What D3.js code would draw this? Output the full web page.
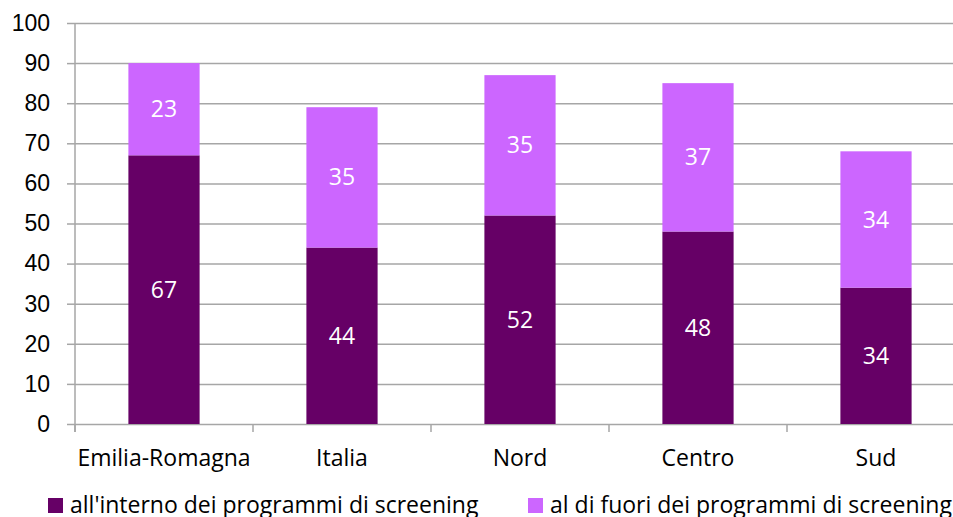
<!DOCTYPE html>
<html>
<head>
<meta charset="utf-8">
<script src="https://cdn.jsdelivr.net/npm/d3@7"></script>
<style>
  html, body { margin: 0; padding: 0; background: #fff; }
  svg { display: block; font-family: "Open Sans", Lato, "Liberation Sans", sans-serif; }
</style>
</head>
<body>
<svg id="chart" width="953" height="517"></svg>
<script>
// Screening participation by area (%)
const categories = ["Emilia-Romagna", "Italia", "Nord", "Centro", "Sud"];
const insideValues = [67, 44, 52, 48, 34];
const outsideValues = [23, 35, 35, 37, 34];
const seriesNames = ["all'interno dei programmi di screening", "al di fuori dei programmi di screening"];
const seriesColors = ["#660066", "#cc66ff"];
const yTicks = [0, 10, 20, 30, 40, 50, 60, 70, 80, 90, 100];

const svg = d3.select("#chart");
const margin = { left: 75, top: 23, right: -12, bottom: 93 };
const width = 953, height = 517;
const fontSize = 23;

const x = d3.scaleBand()
  .domain(categories)
  .range([margin.left, width - margin.right])
  .paddingInner(0.6)
  .paddingOuter(0.3);

const y = d3.scaleLinear()
  .domain([0, 100])
  .range([height - margin.bottom, margin.top]);

const step = x.step();
const x0 = margin.left;
const gridColor = "#a6a6a6";

// Horizontal gridlines with left tick marks
const yAxis = d3.axisLeft(y).tickValues(yTicks).tickSize(8).tickPadding(17).tickFormat(d3.format("d"));
const gy = svg.append("g").attr("transform", `translate(${x0},0)`).call(yAxis);
gy.select(".domain").remove();
gy.selectAll(".tick line").attr("stroke", gridColor).attr("stroke-width", 1.5);
gy.selectAll(".tick text").attr("font-size", fontSize).attr("fill", "#000");
gy.selectAll(".tick").append("line")
  .attr("x1", 0).attr("x2", width)
  .attr("stroke", gridColor).attr("stroke-width", 1.5);

// Vertical axis line
svg.append("line")
  .attr("x1", x0).attr("x2", x0)
  .attr("y1", y(100)).attr("y2", y(0) + 8)
  .attr("stroke", gridColor).attr("stroke-width", 1.5);

// Category boundary ticks along the baseline
const boundaries = d3.range(categories.length + 1).map(i => x0 + i * step);
svg.append("g").selectAll("line").data(boundaries).join("line")
  .attr("x1", d => d).attr("x2", d => d)
  .attr("y1", y(0)).attr("y2", y(0) + 8)
  .attr("stroke", gridColor).attr("stroke-width", 1.5);

// Category labels
svg.append("g").selectAll("text").data(categories).join("text")
  .attr("x", d => x(d) + x.bandwidth() / 2)
  .attr("y", y(0) + 42)
  .attr("text-anchor", "middle")
  .attr("font-size", fontSize)
  .attr("fill", "#000")
  .text(d => d);

// Stacked bars
const rows = categories.map((c, i) => ({ cat: c, inside: insideValues[i], outside: outsideValues[i] }));
const stack = d3.stack().keys(["inside", "outside"])(rows);

const layers = svg.append("g").selectAll("g").data(stack).join("g")
  .attr("fill", (d, i) => seriesColors[i]);

layers.selectAll("rect").data(d => d).join("rect")
  .attr("x", d => x(d.data.cat))
  .attr("width", x.bandwidth())
  .attr("y", d => y(d[1]))
  .attr("height", d => y(d[0]) - y(d[1]));

layers.selectAll("text").data(d => d).join("text")
  .attr("x", d => x(d.data.cat) + x.bandwidth() / 2)
  .attr("y", d => y((d[0] + d[1]) / 2))
  .attr("dy", "0.35em")
  .attr("text-anchor", "middle")
  .attr("font-size", fontSize)
  .attr("fill", "#fff")
  .text(d => d[1] - d[0]);

// Legend
const legendX = [48, 528];
const legend = svg.append("g").selectAll("g").data(seriesNames).join("g")
  .attr("transform", (d, i) => `translate(${legendX[i]},498)`);
legend.append("rect").attr("width", 15).attr("height", 15).attr("fill", (d, i) => seriesColors[i]);
legend.append("text")
  .attr("x", 22).attr("y", 7).attr("dy", "0.35em")
  .attr("font-size", fontSize).attr("fill", "#000")
  .text(d => d);
</script>
</body>
</html>
